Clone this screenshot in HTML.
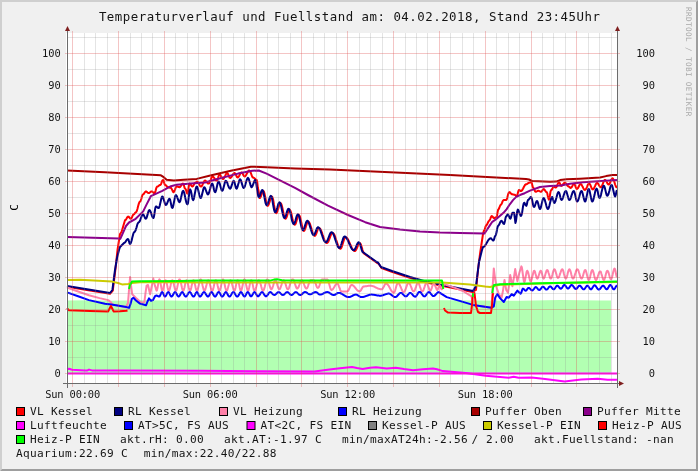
<!DOCTYPE html>
<html><head><meta charset="utf-8"><title>Temperaturverlauf</title>
<style>
html,body{margin:0;padding:0;background:#f0f0f0;}
svg{display:block;will-change:transform;}
text{font-family:'DejaVu Sans Mono','Liberation Mono',monospace;}
</style></head><body>
<svg width="698" height="471" viewBox="0 0 698 471">
<rect x="0" y="0" width="698" height="471" fill="#f0f0f0"/>
<path d="M0,0 H698 L696,2 H2 V469 L0,471 Z" fill="#cfcfcf"/>
<path d="M698,471 H0 L2,469 H696 V2 L698,0 Z" fill="#9e9e9e"/>
<rect x="66" y="33" width="552" height="351" fill="#fff"/>
<path d="M67,373.3 L67.0,300.6 L90.0,300.3 L110.0,300.8 L140.0,300.2 L170.0,300.5 L200.0,300.9 L240.0,300.3 L280.0,301.0 L320.0,300.3 L360.0,300.6 L400.0,300.9 L440.0,300.2 L480.0,300.4 L520.0,300.8 L560.0,300.1 L600.0,300.4 L611.0,300.4 L611,373.3 Z" fill="#b2ffb2"/>
<path d="M67.0,286.7 L110.0,293.8 L112.8,290.6 L115.6,268.0 L117.5,250.0 L120.0,234.0 L121.5,232.0 L125.0,220.2 L125.5,220.0 L126.1,219.3 L126.6,218.4 L127.1,217.5 L127.7,216.8 L128.2,216.6 L128.7,216.8 L129.2,217.3 L129.8,218.0 L130.3,218.5 L130.8,218.7 L131.4,218.3 L132.0,217.2 L132.5,215.9 L133.1,214.8 L133.7,214.4 L134.2,214.1 L134.8,213.4 L135.3,212.6 L135.8,212.3 L136.3,211.9 L136.9,210.7 L137.4,209.0 L137.9,206.9 L138.5,204.8 L139.0,203.1 L139.6,201.9 L140.1,201.5 L140.7,200.8 L141.3,199.0 L141.8,196.9 L142.4,195.1 L143.0,194.4 L143.6,194.1 L144.1,193.4 L144.7,192.5 L145.2,191.8 L145.8,191.5 L146.4,191.6 L147.0,192.0 L147.5,192.5 L148.1,192.9 L148.7,193.0 L149.3,192.9 L149.9,192.5 L150.4,192.0 L151.0,191.6 L151.6,191.5 L152.2,191.6 L152.7,192.0 L153.3,192.5 L153.8,192.9 L154.4,193.0 L155.0,192.4 L155.6,190.8 L156.1,188.7 L156.7,187.1 L157.3,186.5 L157.9,186.4 L158.5,186.0 L159.0,185.5 L159.6,185.1 L160.2,185.0 L160.8,184.5 L161.3,183.3 L161.9,181.7 L162.4,180.5 L163.0,180.0 L163.6,180.7 L164.1,182.5 L164.6,184.3 L165.2,185.0 L165.8,185.2 L166.3,185.8 L166.9,186.4 L167.4,187.0 L168.0,187.2 L168.6,187.3 L169.2,187.4 L169.7,187.7 L170.3,187.8 L170.9,187.9 L171.4,188.3 L171.9,189.4 L172.5,190.7 L173.0,191.8 L173.5,192.2 L174.0,191.8 L174.5,190.8 L175.1,189.3 L175.6,187.9 L176.1,186.9 L176.6,186.5 L177.2,186.6 L177.8,186.7 L178.3,187.0 L178.9,187.1 L179.5,187.2 L180.0,187.0 L180.5,186.5 L181.0,185.8 L181.5,185.0 L182.0,184.3 L182.5,183.8 L183.0,183.6 L183.6,184.3 L184.1,186.1 L184.6,187.9 L185.2,188.6 L185.8,189.3 L186.3,191.1 L186.8,192.9 L187.4,193.6 L187.9,192.1 L188.4,188.6 L189.0,185.1 L189.5,183.6 L190.1,183.9 L190.7,184.6 L191.2,185.5 L191.8,186.2 L192.4,186.5 L193.0,186.2 L193.6,185.3 L194.1,184.1 L194.7,183.2 L195.3,182.9 L195.9,182.6 L196.4,181.9 L197.0,181.6 L197.5,181.8 L198.0,182.3 L198.5,183.1 L199.0,184.1 L199.5,185.1 L200.0,185.9 L200.5,186.4 L201.0,186.6 L201.5,186.4 L202.0,185.7 L202.5,184.7 L203.0,183.6 L203.5,182.5 L204.0,181.5 L204.5,180.8 L205.0,180.6 L205.5,180.7 L206.0,181.2 L206.5,181.8 L207.0,182.4 L207.5,183.0 L208.0,183.5 L208.5,183.6 L209.0,183.3 L209.5,182.6 L210.0,181.4 L210.6,180.1 L211.1,178.7 L211.6,177.5 L212.1,176.8 L212.6,176.5 L213.2,176.7 L213.7,177.3 L214.3,178.1 L214.8,178.9 L215.4,179.7 L215.9,180.3 L216.5,180.5 L217.0,180.1 L217.5,179.0 L218.1,177.5 L218.6,176.0 L219.1,174.9 L219.6,174.5 L220.2,174.8 L220.7,175.6 L221.3,176.8 L221.9,177.9 L222.4,178.7 L223.0,179.0 L223.5,178.8 L224.0,178.1 L224.5,177.1 L225.1,176.0 L225.6,174.9 L226.1,173.9 L226.6,173.2 L227.1,173.0 L227.6,173.3 L228.1,174.2 L228.6,175.5 L229.1,176.8 L229.6,177.7 L230.1,178.0 L230.6,177.8 L231.1,177.4 L231.6,176.8 L232.1,175.9 L232.6,175.1 L233.1,174.2 L233.6,173.6 L234.1,173.2 L234.6,173.0 L235.1,173.3 L235.6,174.1 L236.1,175.2 L236.6,176.4 L237.1,177.2 L237.6,177.5 L238.1,177.3 L238.6,176.8 L239.1,176.0 L239.6,175.0 L240.1,174.0 L240.6,173.2 L241.1,172.7 L241.6,172.5 L242.1,172.8 L242.6,173.5 L243.1,174.5 L243.6,175.5 L244.1,176.2 L244.6,176.5 L245.1,176.3 L245.6,175.8 L246.1,175.0 L246.6,174.0 L247.2,173.0 L247.7,172.0 L248.2,171.2 L248.7,170.7 L249.2,170.5 L249.7,170.8 L250.2,171.5 L250.7,172.7 L251.2,174.0 L251.7,175.4 L252.2,176.6 L252.7,177.3 L253.2,177.6 L253.7,177.7 L254.2,178.1 L254.7,178.5 L255.2,179.1 L255.7,179.5 L256.2,179.9 L256.7,180.0 L257.3,182.5 L257.8,187.5 L258.4,190.0 L259.1,194.0 L259.8,198.0 L260.3,197.6 L260.8,196.6 L261.3,195.2 L261.8,193.6 L262.3,192.2 L262.8,191.2 L263.3,190.8 L263.8,191.4 L264.4,193.0 L264.9,195.5 L265.5,198.3 L266.0,201.2 L266.5,203.7 L267.1,205.3 L267.6,205.9 L268.1,205.5 L268.7,204.5 L269.2,203.0 L269.8,201.3 L270.3,199.5 L270.8,198.0 L271.4,197.0 L271.9,196.6 L272.4,197.2 L273.0,199.0 L273.5,201.7 L274.0,204.9 L274.6,208.0 L275.1,210.7 L275.7,212.5 L276.2,213.1 L276.7,212.7 L277.3,211.6 L277.8,210.0 L278.4,208.1 L278.9,206.2 L279.4,204.6 L280.0,203.5 L280.5,203.1 L281.0,203.5 L281.5,204.6 L282.0,206.3 L282.5,208.5 L283.0,211.0 L283.5,213.4 L284.0,215.6 L284.5,217.3 L285.0,218.4 L285.5,218.8 L286.0,218.4 L286.5,217.4 L287.0,215.9 L287.5,214.2 L288.0,212.4 L288.5,210.9 L289.0,209.9 L289.5,209.5 L290.0,209.9 L290.5,211.0 L291.1,212.7 L291.6,214.8 L292.1,217.2 L292.6,219.5 L293.1,221.6 L293.7,223.3 L294.2,224.4 L294.7,224.8 L295.2,224.4 L295.8,223.4 L296.3,221.8 L296.8,220.0 L297.3,218.1 L297.8,216.5 L298.4,215.5 L298.9,215.1 L299.4,215.5 L299.9,216.6 L300.4,218.4 L300.9,220.6 L301.4,223.0 L301.9,225.4 L302.4,227.6 L302.9,229.4 L303.4,230.5 L303.9,230.9 L304.4,230.5 L305.0,229.5 L305.5,228.0 L306.0,226.3 L306.6,224.5 L307.1,223.0 L307.7,222.0 L308.2,221.6 L308.7,221.8 L309.2,222.4 L309.7,223.4 L310.2,224.7 L310.7,226.2 L311.2,227.9 L311.7,229.6 L312.2,231.3 L312.7,232.8 L313.2,234.1 L313.7,235.1 L314.2,235.7 L314.7,235.9 L315.2,235.6 L315.8,234.7 L316.3,233.5 L316.9,232.0 L317.4,230.4 L317.9,229.2 L318.5,228.3 L319.0,228.0 L319.5,228.2 L320.0,228.7 L320.6,229.4 L321.1,230.5 L321.6,231.8 L322.1,233.2 L322.6,234.8 L323.2,236.3 L323.7,237.9 L324.2,239.3 L324.7,240.6 L325.2,241.7 L325.8,242.4 L326.3,242.9 L326.8,243.1 L327.3,242.9 L327.9,242.3 L328.4,241.4 L328.9,240.1 L329.4,238.8 L330.0,237.3 L330.5,236.0 L331.0,234.7 L331.5,233.8 L332.1,233.2 L332.6,233.0 L333.1,233.2 L333.6,233.7 L334.2,234.5 L334.7,235.6 L335.2,236.9 L335.7,238.5 L336.2,240.1 L336.8,241.7 L337.3,243.3 L337.8,244.8 L338.3,246.2 L338.8,247.3 L339.4,248.1 L339.9,248.6 L340.4,248.8 L340.9,248.5 L341.4,247.7 L341.9,246.4 L342.4,244.8 L342.9,243.1 L343.5,241.3 L344.0,239.7 L344.5,238.4 L345.0,237.6 L345.5,237.3 L346.0,237.4 L346.5,237.7 L347.1,238.2 L347.6,238.9 L348.1,239.7 L348.6,240.7 L349.1,241.8 L349.6,243.0 L350.1,244.2 L350.7,245.3 L351.2,246.5 L351.7,247.6 L352.2,248.6 L352.7,249.4 L353.2,250.1 L353.8,250.6 L354.3,250.9 L354.8,251.0 L355.3,250.8 L355.8,250.2 L356.3,249.4 L356.8,248.3 L357.3,247.1 L357.8,245.8 L358.3,244.7 L358.8,243.9 L359.3,243.3 L359.8,243.1 L360.3,243.5 L360.9,244.6 L361.4,246.2 L362.0,248.1 L362.5,250.0 L363.0,251.6 L363.6,252.7 L364.1,253.1 L363.6,253.3 L377.2,263.0 L378.5,263.5 L381.5,268.0 L392.5,272.0 L410.5,278.0 L424.5,282.0 L440.5,285.5 L460.5,289.4 L472.5,292.0 L476.0,290.0 L478.0,270.0 L480.0,254.0 L483.0,234.0 L483.4,232.5 L483.8,230.9 L484.3,230.3 L484.9,228.9 L485.4,227.0 L486.0,225.6 L486.5,225.0 L487.0,224.6 L487.5,223.5 L488.1,222.3 L488.6,221.2 L489.1,220.8 L489.6,220.3 L490.2,219.1 L490.7,217.7 L491.3,216.5 L491.8,216.0 L492.3,216.3 L492.9,217.0 L493.4,217.8 L493.9,218.1 L494.4,218.0 L495.0,217.8 L495.5,217.4 L496.1,217.2 L496.6,217.1 L497.1,215.2 L497.7,211.5 L498.2,209.6 L498.7,209.2 L499.2,208.0 L499.8,206.5 L500.3,205.3 L500.8,204.9 L501.3,204.4 L501.9,203.2 L502.4,201.8 L503.0,200.6 L503.5,200.1 L504.0,200.1 L504.5,200.1 L505.1,200.1 L505.6,200.1 L506.1,200.1 L506.6,199.6 L507.2,198.1 L507.7,196.1 L508.2,194.1 L508.8,192.6 L509.3,192.1 L509.8,192.3 L510.4,192.8 L510.9,193.5 L511.5,194.0 L512.0,194.2 L512.5,194.3 L513.0,194.4 L513.6,194.6 L514.1,194.7 L514.6,194.8 L515.1,195.0 L515.7,195.6 L516.2,196.2 L516.7,196.4 L517.2,195.5 L517.8,193.2 L518.4,190.9 L518.9,190.0 L519.4,190.1 L520.0,190.5 L520.5,190.9 L521.0,191.0 L521.5,190.8 L522.0,190.4 L522.5,189.6 L523.0,188.7 L523.5,187.7 L524.1,186.6 L524.6,185.7 L525.1,184.9 L525.6,184.5 L526.1,184.3 L526.6,184.2 L527.2,183.9 L527.7,183.5 L528.2,183.1 L528.8,182.8 L529.3,182.7 L529.8,182.6 L530.3,182.4 L530.9,182.3 L531.4,182.2 L531.9,183.5 L532.5,186.2 L533.0,187.5 L533.5,187.9 L534.1,189.0 L534.6,190.3 L535.2,191.4 L535.7,191.8 L536.2,191.7 L536.7,191.4 L537.3,191.1 L537.8,190.8 L538.3,190.7 L538.8,190.8 L539.4,191.1 L539.9,191.4 L540.5,191.7 L541.0,191.8 L541.5,191.5 L542.0,190.9 L542.6,190.0 L543.1,189.4 L543.6,189.1 L544.1,189.3 L544.7,189.9 L545.2,190.7 L545.7,191.5 L546.3,192.1 L546.8,192.3 L547.3,193.4 L547.8,196.0 L548.4,198.6 L548.9,199.7 L549.5,198.3 L550.0,194.9 L550.5,191.6 L551.1,190.2 L551.6,189.9 L552.1,189.1 L552.7,188.1 L553.2,187.3 L553.7,187.0 L554.2,187.1 L554.8,187.2 L555.3,187.4 L555.8,187.5 L556.3,187.1 L556.9,186.2 L557.4,184.8 L557.9,183.5 L558.5,182.6 L559.0,182.2 L559.5,182.7 L560.1,184.0 L560.7,185.4 L561.2,185.9 L561.7,185.7 L562.3,185.3 L562.8,184.7 L563.3,183.9 L563.8,183.3 L564.4,182.9 L564.9,182.7 L565.4,182.9 L566.0,183.4 L566.5,184.2 L567.0,185.0 L567.5,185.8 L568.1,186.3 L568.6,186.5 L569.1,186.7 L569.7,187.2 L570.2,187.8 L570.7,188.0 L571.2,187.7 L571.8,187.0 L572.4,185.9 L572.9,184.9 L573.5,184.1 L574.0,183.8 L574.6,184.3 L575.2,185.6 L575.7,187.1 L576.3,188.4 L576.9,188.9 L577.4,188.7 L578.0,188.0 L578.5,187.0 L579.0,186.0 L579.5,185.0 L580.1,184.3 L580.6,184.1 L581.1,184.3 L581.7,184.9 L582.2,185.9 L582.8,187.0 L583.3,188.1 L583.8,189.1 L584.4,189.7 L584.9,189.9 L585.4,189.7 L586.0,189.0 L586.5,188.0 L587.0,186.8 L587.5,185.5 L588.0,184.5 L588.6,183.8 L589.1,183.6 L589.6,183.9 L590.2,184.7 L590.7,185.9 L591.2,187.1 L591.7,188.3 L592.3,189.1 L592.8,189.4 L593.3,189.2 L593.9,188.5 L594.4,187.4 L595.0,186.2 L595.5,185.0 L596.0,183.9 L596.6,183.2 L597.1,183.0 L597.6,183.2 L598.2,183.8 L598.7,184.7 L599.2,185.6 L599.7,186.5 L600.3,187.1 L600.8,187.3 L601.3,187.0 L601.8,186.2 L602.4,185.0 L602.9,183.6 L603.4,182.2 L604.0,181.0 L604.5,180.2 L605.0,179.9 L605.5,180.1 L606.1,180.8 L606.6,181.7 L607.1,182.8 L607.6,183.7 L608.2,184.4 L608.7,184.6 L609.2,184.3 L609.8,183.4 L610.3,182.2 L610.9,180.7 L611.4,179.5 L612.0,178.6 L612.5,178.3 L613.0,178.6 L613.5,179.6 L614.1,181.1 L614.6,182.8 L615.1,184.5 L615.7,186.0 L616.2,187.0 L616.7,187.3 L616.9,187.3 L617.0,187.3" fill="none" stroke="#ff0000" stroke-width="2" stroke-linejoin="round" />
<path d="M67.0,286.0 L110.0,293.0 L112.4,290.0 L115.0,270.0 L117.0,258.0 L119.0,250.0 L120.0,247.0 L124.0,243.0 L124.5,242.8 L125.0,242.4 L125.5,241.8 L126.0,241.0 L126.5,240.2 L127.0,239.6 L127.5,239.2 L128.0,239.0 L128.5,239.7 L129.0,241.5 L129.5,243.3 L130.0,244.0 L130.6,243.5 L131.1,242.2 L131.7,240.3 L132.2,238.0 L132.8,235.7 L133.3,233.8 L133.8,232.5 L134.4,232.0 L134.9,231.6 L135.5,230.6 L136.0,229.0 L136.6,227.2 L137.1,225.3 L137.6,223.7 L138.2,222.7 L138.7,222.3 L139.2,222.0 L139.8,221.1 L140.3,219.9 L140.8,218.4 L141.4,216.8 L141.9,215.6 L142.5,214.7 L143.0,214.4 L143.6,214.8 L144.1,215.9 L144.7,217.2 L145.2,218.3 L145.8,218.7 L146.3,218.3 L146.8,217.1 L147.3,215.4 L147.9,213.4 L148.4,211.7 L148.9,210.5 L149.4,210.1 L149.9,210.4 L150.4,211.3 L150.9,212.5 L151.4,214.0 L151.9,215.6 L152.4,216.8 L152.9,217.7 L153.4,218.0 L153.9,216.9 L154.4,214.0 L154.9,210.5 L155.4,207.6 L155.9,206.5 L156.5,206.6 L157.0,207.0 L157.6,207.5 L158.1,207.9 L158.7,208.0 L159.2,207.4 L159.7,205.8 L160.2,203.5 L160.8,201.0 L161.3,198.7 L161.8,197.1 L162.3,196.5 L162.8,196.9 L163.3,198.1 L163.8,199.8 L164.4,201.7 L164.9,203.4 L165.4,204.6 L165.9,205.0 L166.4,204.7 L166.9,203.8 L167.4,202.6 L168.0,201.1 L168.5,199.9 L169.0,199.0 L169.5,198.7 L170.1,199.6 L170.6,201.9 L171.2,204.8 L171.7,207.1 L172.3,208.0 L172.8,207.4 L173.3,205.6 L173.8,203.0 L174.4,200.1 L174.9,197.5 L175.4,195.7 L175.9,195.1 L176.4,195.5 L176.9,196.4 L177.4,197.9 L178.0,199.4 L178.5,200.9 L179.0,201.8 L179.5,202.2 L180.0,201.6 L180.5,200.1 L181.0,197.8 L181.6,195.2 L182.1,192.9 L182.6,191.4 L183.1,190.8 L183.6,191.3 L184.2,192.8 L184.7,195.0 L185.2,197.6 L185.8,200.2 L186.3,202.4 L186.9,203.9 L187.4,204.4 L188.0,203.0 L188.5,199.2 L189.1,194.6 L189.6,190.8 L190.2,189.4 L190.8,190.4 L191.4,193.1 L191.9,196.4 L192.5,199.1 L193.1,200.1 L193.6,199.4 L194.1,197.5 L194.6,194.8 L195.2,191.8 L195.7,189.1 L196.2,187.2 L196.7,186.5 L197.2,186.9 L197.7,188.2 L198.2,190.0 L198.7,192.2 L199.2,194.5 L199.7,196.3 L200.2,197.6 L200.7,198.0 L201.2,197.5 L201.7,196.0 L202.2,193.8 L202.8,191.4 L203.3,189.2 L203.8,187.7 L204.3,187.2 L204.8,187.6 L205.3,188.6 L205.8,190.0 L206.4,191.6 L206.9,193.0 L207.4,194.0 L207.9,194.4 L208.4,194.0 L209.0,192.8 L209.5,191.1 L210.1,189.0 L210.6,186.9 L211.1,185.2 L211.7,184.0 L212.2,183.6 L212.8,184.4 L213.4,186.6 L213.9,189.2 L214.5,191.4 L215.1,192.2 L215.6,191.7 L216.1,190.2 L216.6,188.0 L217.1,185.7 L217.6,183.5 L218.1,182.0 L218.6,181.5 L219.1,182.0 L219.6,183.3 L220.1,185.1 L220.7,187.2 L221.2,189.0 L221.7,190.3 L222.2,190.8 L222.7,190.3 L223.2,188.9 L223.7,186.9 L224.3,184.7 L224.8,182.7 L225.3,181.3 L225.8,180.8 L226.3,181.1 L226.9,182.0 L227.4,183.2 L227.9,184.8 L228.5,186.3 L229.0,187.5 L229.6,188.4 L230.1,188.7 L230.6,188.3 L231.1,187.2 L231.6,185.6 L232.2,183.9 L232.7,182.3 L233.2,181.2 L233.7,180.8 L234.3,181.6 L234.8,183.5 L235.4,186.0 L235.9,187.9 L236.5,188.7 L237.0,188.2 L237.5,186.9 L238.0,185.0 L238.6,183.0 L239.1,181.1 L239.6,179.8 L240.1,179.3 L240.6,179.7 L241.1,180.9 L241.6,182.6 L242.2,184.6 L242.7,186.3 L243.2,187.5 L243.7,187.9 L244.2,187.5 L244.8,186.4 L245.3,184.8 L245.8,182.9 L246.4,181.0 L246.9,179.4 L247.5,178.3 L248.0,177.9 L248.5,178.4 L249.0,179.7 L249.5,181.5 L250.1,183.6 L250.6,185.4 L251.1,186.7 L251.6,187.2 L252.1,186.8 L252.6,185.8 L253.1,184.4 L253.7,182.8 L254.2,181.4 L254.7,180.4 L255.2,180.0 L255.7,180.9 L256.2,183.2 L256.7,186.7 L257.3,190.5 L257.8,194.0 L258.3,196.3 L258.8,197.2 L259.3,196.8 L259.8,195.8 L260.3,194.4 L260.8,192.8 L261.3,191.4 L261.8,190.4 L262.3,190.0 L262.8,190.6 L263.4,192.2 L263.9,194.7 L264.5,197.5 L265.0,200.4 L265.5,202.9 L266.1,204.5 L266.6,205.1 L267.1,204.7 L267.7,203.7 L268.2,202.2 L268.8,200.5 L269.3,198.7 L269.8,197.2 L270.4,196.2 L270.9,195.8 L271.4,196.4 L272.0,198.2 L272.5,200.9 L273.0,204.1 L273.6,207.2 L274.1,209.9 L274.7,211.7 L275.2,212.3 L275.7,211.9 L276.3,210.8 L276.8,209.2 L277.4,207.3 L277.9,205.4 L278.4,203.8 L279.0,202.7 L279.5,202.3 L280.0,202.7 L280.5,203.8 L281.0,205.5 L281.5,207.7 L282.0,210.2 L282.5,212.6 L283.0,214.8 L283.5,216.5 L284.0,217.6 L284.5,218.0 L285.0,217.6 L285.5,216.6 L286.0,215.1 L286.5,213.3 L287.0,211.6 L287.5,210.1 L288.0,209.1 L288.5,208.7 L289.0,209.1 L289.5,210.2 L290.1,211.9 L290.6,214.0 L291.1,216.3 L291.6,218.7 L292.1,220.8 L292.7,222.5 L293.2,223.6 L293.7,224.0 L294.2,223.6 L294.8,222.6 L295.3,221.0 L295.8,219.2 L296.3,217.3 L296.8,215.7 L297.4,214.7 L297.9,214.3 L298.4,214.7 L298.9,215.8 L299.4,217.6 L299.9,219.8 L300.4,222.2 L300.9,224.6 L301.4,226.8 L301.9,228.6 L302.4,229.7 L302.9,230.1 L303.4,229.7 L304.0,228.7 L304.5,227.2 L305.0,225.5 L305.6,223.7 L306.1,222.2 L306.7,221.2 L307.2,220.8 L307.7,221.0 L308.2,221.6 L308.7,222.6 L309.2,223.9 L309.7,225.4 L310.2,227.1 L310.7,228.8 L311.2,230.5 L311.7,232.0 L312.2,233.3 L312.7,234.3 L313.2,234.9 L313.7,235.1 L314.2,234.8 L314.8,233.9 L315.3,232.7 L315.9,231.2 L316.4,229.6 L316.9,228.4 L317.5,227.5 L318.0,227.2 L318.5,227.4 L319.0,227.9 L319.6,228.6 L320.1,229.7 L320.6,231.0 L321.1,232.4 L321.6,234.0 L322.2,235.5 L322.7,237.1 L323.2,238.5 L323.7,239.8 L324.2,240.9 L324.8,241.6 L325.3,242.1 L325.8,242.3 L326.3,242.1 L326.9,241.5 L327.4,240.6 L327.9,239.3 L328.4,238.0 L329.0,236.5 L329.5,235.2 L330.0,233.9 L330.5,233.0 L331.1,232.4 L331.6,232.2 L332.1,232.4 L332.6,232.9 L333.2,233.7 L333.7,234.8 L334.2,236.1 L334.7,237.7 L335.2,239.3 L335.8,240.9 L336.3,242.5 L336.8,244.0 L337.3,245.4 L337.8,246.5 L338.4,247.3 L338.9,247.8 L339.4,248.0 L339.9,247.7 L340.4,246.9 L340.9,245.6 L341.4,244.0 L341.9,242.2 L342.5,240.5 L343.0,238.9 L343.5,237.6 L344.0,236.8 L344.5,236.5 L345.0,236.6 L345.5,236.9 L346.1,237.4 L346.6,238.1 L347.1,238.9 L347.6,239.9 L348.1,241.0 L348.6,242.2 L349.1,243.3 L349.7,244.5 L350.2,245.7 L350.7,246.8 L351.2,247.8 L351.7,248.6 L352.2,249.3 L352.8,249.8 L353.3,250.1 L353.8,250.2 L354.3,250.0 L354.8,249.4 L355.3,248.6 L355.8,247.5 L356.3,246.2 L356.8,245.0 L357.3,243.9 L357.8,243.1 L358.3,242.5 L358.8,242.3 L359.3,242.7 L359.9,243.8 L360.4,245.4 L361.0,247.3 L361.5,249.2 L362.0,250.8 L362.6,251.9 L363.1,252.3 L376.7,262.0 L378.0,262.5 L381.0,267.0 L392.0,271.0 L410.0,277.0 L424.0,281.0 L440.0,284.5 L460.0,288.4 L473.0,291.0 L476.0,286.0 L479.0,262.0 L482.0,250.0 L483.0,247.0 L483.5,246.9 L484.0,246.6 L484.5,246.2 L485.1,245.6 L485.6,244.8 L486.1,244.0 L486.6,243.1 L487.1,242.2 L487.6,241.3 L488.1,240.5 L488.6,239.7 L489.2,239.1 L489.7,238.7 L490.2,238.4 L490.7,238.3 L491.2,238.5 L491.7,239.1 L492.3,239.7 L492.8,240.3 L493.3,240.5 L493.9,239.8 L494.4,238.1 L494.9,236.3 L495.5,235.6 L496.0,234.6 L496.6,232.1 L497.1,229.1 L497.7,226.6 L498.2,225.6 L498.7,225.3 L499.3,224.4 L499.8,223.2 L500.3,222.0 L500.9,221.1 L501.4,220.8 L501.9,221.1 L502.4,221.9 L503.0,222.9 L503.5,223.7 L504.0,224.0 L504.5,222.9 L505.1,220.2 L505.6,217.6 L506.1,216.5 L506.6,216.0 L507.2,214.9 L507.7,214.4 L508.2,214.8 L508.8,215.9 L509.3,217.2 L509.9,218.3 L510.4,218.7 L510.9,217.8 L511.4,215.8 L512.0,213.7 L512.5,212.8 L513.0,212.8 L513.6,212.8 L514.1,212.8 L514.8,217.8 L515.4,222.9 L516.0,221.0 L516.6,216.2 L517.2,211.5 L517.8,209.6 L518.3,210.0 L518.9,211.2 L519.4,212.8 L519.9,214.4 L520.5,215.6 L521.0,216.0 L521.5,215.1 L522.1,212.7 L522.6,209.3 L523.1,206.0 L523.7,203.6 L524.2,202.7 L524.7,203.2 L525.2,204.3 L525.8,205.4 L526.3,205.9 L526.9,204.4 L527.4,201.5 L528.0,200.0 L528.5,199.8 L529.0,199.2 L529.5,198.5 L530.0,197.8 L530.5,197.2 L531.0,197.0 L531.5,197.7 L532.0,199.5 L532.5,202.0 L533.0,204.5 L533.5,206.3 L534.0,207.0 L534.5,206.6 L535.0,205.5 L535.5,204.0 L536.0,202.5 L536.5,201.4 L537.0,201.0 L537.5,201.5 L538.0,203.0 L538.5,205.0 L539.0,207.0 L539.5,208.5 L540.0,209.0 L540.5,208.5 L541.0,206.9 L541.5,204.7 L542.1,202.3 L542.6,200.1 L543.1,198.5 L543.6,198.0 L544.1,198.4 L544.7,199.6 L545.2,201.4 L545.8,203.5 L546.3,205.6 L546.8,207.4 L547.4,208.6 L547.9,209.0 L548.4,208.5 L549.0,207.2 L549.5,205.3 L550.0,203.0 L550.6,200.7 L551.1,198.8 L551.7,197.5 L552.2,197.0 L552.7,197.9 L553.2,200.0 L553.8,202.1 L554.3,203.0 L554.8,202.6 L555.4,201.4 L555.9,199.6 L556.5,197.5 L557.0,195.4 L557.5,193.6 L558.1,192.4 L558.6,192.0 L559.2,192.8 L559.8,194.8 L560.3,197.2 L560.9,199.2 L561.5,200.0 L562.0,199.7 L562.6,198.7 L563.1,197.2 L563.6,195.5 L564.2,193.8 L564.7,192.3 L565.3,191.3 L565.8,191.0 L566.3,191.4 L566.8,192.7 L567.3,194.5 L567.9,196.5 L568.4,198.3 L568.9,199.6 L569.4,200.0 L569.9,199.7 L570.5,198.7 L571.0,197.2 L571.5,195.5 L572.1,193.8 L572.6,192.3 L573.2,191.3 L573.7,191.0 L574.2,191.5 L574.7,193.0 L575.2,195.1 L575.7,197.4 L576.2,199.5 L576.7,201.0 L577.2,201.5 L577.7,201.1 L578.3,200.0 L578.8,198.3 L579.4,196.2 L579.9,194.2 L580.4,192.5 L581.0,191.4 L581.5,191.0 L582.0,191.5 L582.5,193.0 L583.0,195.1 L583.6,197.4 L584.1,199.5 L584.6,201.0 L585.1,201.5 L585.6,200.9 L586.1,199.1 L586.6,196.6 L587.2,193.9 L587.7,191.4 L588.2,189.6 L588.7,189.0 L589.2,189.6 L589.7,191.4 L590.2,193.9 L590.8,196.6 L591.3,199.1 L591.8,200.9 L592.3,201.5 L592.8,201.0 L593.4,199.6 L593.9,197.5 L594.5,195.1 L595.0,192.6 L595.5,190.5 L596.1,189.1 L596.6,188.6 L597.2,189.5 L597.8,191.8 L598.3,194.8 L598.9,197.1 L599.5,198.0 L600.0,197.5 L600.6,196.2 L601.1,194.2 L601.6,191.9 L602.2,189.6 L602.7,187.6 L603.3,186.3 L603.8,185.8 L604.3,186.3 L604.8,187.7 L605.3,189.7 L605.8,191.9 L606.3,193.9 L606.8,195.3 L607.3,195.8 L607.8,195.4 L608.4,194.2 L608.9,192.5 L609.5,190.4 L610.0,188.3 L610.5,186.6 L611.1,185.4 L611.6,185.0 L612.1,185.6 L612.6,187.2 L613.1,189.5 L613.7,192.0 L614.2,194.3 L614.7,195.9 L615.2,196.5 L615.8,194.9 L616.4,191.6 L617.0,190.0" fill="none" stroke="#000080" stroke-width="2" stroke-linejoin="round" />
<path d="M67.0,287.5 L78.1,291.5 L88.9,295.2 L99.6,298.1 L108.2,300.1 L110.9,302.2 L112.5,304.6 L126.0,307.2 L128.0,303.0 L129.0,290.0 L130.1,277.0 L131.2,287.0 L132.2,294.3 L136.0,298.0 L141.5,303.0 L144.4,302.0 L145.5,293.0 L146.6,285.7 L148.0,285.0 L150.1,294.3 L151.8,286.0 L153.3,278.6 L155.0,286.0 L155.5,287.2 L156.1,289.5 L156.6,290.7 L157.0,290.1 L157.4,288.6 L157.8,286.3 L158.2,283.8 L158.6,281.5 L159.0,280.0 L159.4,279.4 L159.9,280.0 L160.3,281.5 L160.7,283.8 L161.1,286.3 L161.5,288.6 L161.9,290.1 L162.3,290.7 L162.7,290.3 L163.1,289.2 L163.5,287.5 L163.9,285.4 L164.3,283.4 L164.7,281.7 L165.1,280.6 L165.6,280.2 L166.0,280.6 L166.4,281.7 L166.8,283.4 L167.2,285.4 L167.6,287.5 L168.0,289.2 L168.4,290.3 L168.8,290.7 L169.2,290.3 L169.7,289.2 L170.1,287.5 L170.6,285.4 L171.0,283.4 L171.5,281.7 L171.9,280.6 L172.4,280.2 L172.8,280.6 L173.2,281.7 L173.7,283.4 L174.1,285.4 L174.6,287.5 L175.0,289.2 L175.5,290.3 L175.9,290.7 L176.3,290.4 L176.7,289.4 L177.1,287.9 L177.5,286.0 L177.9,284.1 L178.3,282.2 L178.7,280.7 L179.1,279.7 L179.6,279.4 L180.0,279.7 L180.4,280.7 L180.8,282.2 L181.2,284.1 L181.6,286.0 L182.0,287.9 L182.4,289.4 L182.8,290.4 L183.2,290.7 L183.6,290.3 L184.0,289.2 L184.5,287.5 L184.9,285.4 L185.3,283.4 L185.8,281.7 L186.2,280.6 L186.6,280.2 L187.0,280.6 L187.4,281.7 L187.9,283.4 L188.3,285.4 L188.7,287.5 L189.2,289.2 L189.6,290.3 L190.0,290.7 L190.4,290.3 L190.9,289.2 L191.3,287.5 L191.7,285.4 L192.2,283.4 L192.6,281.7 L193.0,280.6 L193.4,280.2 L193.9,280.6 L194.3,281.7 L194.7,283.4 L195.2,285.4 L195.6,287.5 L196.0,289.2 L196.5,290.3 L196.9,290.7 L197.3,290.4 L197.7,289.4 L198.2,287.9 L198.6,286.0 L199.0,284.1 L199.4,282.2 L199.8,280.7 L200.2,279.7 L200.7,279.4 L201.1,279.7 L201.5,280.7 L201.9,282.2 L202.3,284.1 L202.7,286.0 L203.2,287.9 L203.6,289.4 L204.0,290.4 L204.4,290.7 L204.8,290.4 L205.3,289.5 L205.7,288.1 L206.1,286.4 L206.6,284.5 L207.0,282.8 L207.4,281.4 L207.9,280.5 L208.3,280.2 L208.7,280.5 L209.2,281.4 L209.6,282.8 L210.0,284.5 L210.5,286.4 L210.9,288.1 L211.3,289.5 L211.8,290.4 L212.2,290.7 L212.6,290.4 L213.0,289.5 L213.4,288.1 L213.8,286.4 L214.2,284.5 L214.6,282.8 L215.0,281.4 L215.4,280.5 L215.8,280.2 L216.2,280.6 L216.7,281.7 L217.2,283.4 L217.6,285.4 L218.1,287.5 L218.5,289.2 L219.0,290.3 L219.4,290.7 L219.8,290.3 L220.3,289.0 L220.8,287.2 L221.2,285.1 L221.7,282.9 L222.1,281.1 L222.6,279.8 L223.0,279.4 L223.4,279.8 L223.9,281.1 L224.3,282.9 L224.8,285.0 L225.2,287.2 L225.7,289.0 L226.2,290.3 L226.6,290.7 L227.0,290.4 L227.5,289.5 L227.9,288.1 L228.3,286.4 L228.8,284.5 L229.2,282.8 L229.6,281.4 L230.1,280.5 L230.5,280.2 L230.9,280.5 L231.4,281.4 L231.8,282.8 L232.2,284.5 L232.7,286.4 L233.1,288.1 L233.5,289.5 L234.0,290.4 L234.4,290.7 L234.8,290.3 L235.2,289.2 L235.6,287.5 L236.0,285.4 L236.4,283.4 L236.8,281.7 L237.2,280.6 L237.7,280.2 L238.1,280.6 L238.5,281.7 L238.9,283.4 L239.3,285.4 L239.7,287.5 L240.1,289.2 L240.5,290.3 L240.9,290.7 L241.3,290.3 L241.8,289.0 L242.2,287.2 L242.7,285.1 L243.1,282.9 L243.6,281.1 L244.0,279.8 L244.4,279.4 L244.9,279.8 L245.3,281.1 L245.8,282.9 L246.2,285.0 L246.7,287.2 L247.1,289.0 L247.6,290.3 L248.0,290.7 L248.4,290.3 L248.8,289.2 L249.2,287.5 L249.6,285.4 L250.0,283.4 L250.4,281.7 L250.8,280.6 L251.2,280.2 L251.7,280.6 L252.1,281.7 L252.5,283.4 L252.9,285.4 L253.3,287.5 L253.7,289.2 L254.1,290.3 L254.5,290.7 L254.9,290.4 L255.4,289.7 L255.8,288.5 L256.2,287.1 L256.6,285.4 L257.1,283.8 L257.5,282.4 L257.9,281.2 L258.4,280.5 L258.8,280.2 L259.2,280.5 L259.7,281.2 L260.1,282.4 L260.5,283.8 L261.0,285.4 L261.4,287.1 L261.8,288.5 L262.2,289.7 L262.7,290.4 L263.1,290.7 L263.5,290.4 L263.9,289.6 L264.3,288.4 L264.8,286.8 L265.2,285.1 L265.6,283.3 L266.0,281.7 L266.4,280.5 L266.8,279.7 L267.2,279.4 L267.7,279.6 L268.1,280.3 L268.5,281.4 L268.9,282.8 L269.3,284.3 L269.7,285.9 L270.2,287.3 L270.6,288.4 L271.0,289.1 L271.4,289.3 L271.8,289.0 L272.3,288.2 L272.7,287.0 L273.2,285.5 L273.6,284.0 L274.0,282.5 L274.5,281.3 L274.9,280.5 L275.4,280.2 L275.8,280.5 L276.2,281.3 L276.7,282.5 L277.1,284.0 L277.5,285.5 L278.0,287.0 L278.4,288.2 L278.9,289.0 L279.3,289.3 L279.7,289.1 L280.2,288.4 L280.6,287.4 L281.0,286.2 L281.5,284.8 L281.9,283.3 L282.3,282.1 L282.7,281.1 L283.2,280.4 L283.6,280.2 L284.0,280.4 L284.5,281.1 L284.9,282.1 L285.3,283.3 L285.8,284.8 L286.2,286.2 L286.6,287.4 L287.0,288.4 L287.5,289.1 L287.9,289.3 L288.3,289.1 L288.8,288.4 L289.2,287.3 L289.6,285.9 L290.0,284.4 L290.5,282.8 L290.9,281.4 L291.3,280.3 L291.8,279.6 L292.2,279.4 L292.5,279.4 L292.9,279.4 L293.3,279.6 L293.8,280.3 L294.2,281.3 L294.6,282.6 L295.0,284.0 L295.5,285.4 L295.9,286.7 L296.3,287.7 L296.8,288.4 L297.2,288.6 L297.6,288.4 L298.0,287.9 L298.5,287.2 L298.9,286.1 L299.3,285.0 L299.7,283.8 L300.1,282.7 L300.5,281.6 L301.0,280.9 L301.4,280.4 L301.8,280.2 L302.2,280.4 L302.6,280.9 L303.1,281.6 L303.5,282.7 L303.9,283.8 L304.3,285.0 L304.7,286.1 L305.1,287.2 L305.6,287.9 L306.0,288.4 L306.4,288.6 L306.8,288.4 L307.3,287.8 L307.7,286.9 L308.1,285.7 L308.5,284.4 L309.0,283.1 L309.4,281.9 L309.8,281.0 L310.3,280.4 L310.7,280.2 L311.1,280.2 L311.5,280.2 L311.9,280.2 L312.4,280.2 L312.8,280.2 L313.2,280.2 L313.6,280.2 L314.0,280.4 L314.5,280.9 L314.9,281.8 L315.3,282.9 L315.8,284.0 L316.2,285.2 L316.6,286.3 L317.0,287.2 L317.5,287.7 L317.9,287.9 L318.3,287.7 L318.8,287.1 L319.2,286.1 L319.6,285.0 L320.0,283.6 L320.5,282.3 L320.9,281.2 L321.3,280.2 L321.8,279.6 L322.2,279.4 L322.6,279.4 L323.0,279.4 L323.4,279.4 L323.9,279.4 L324.3,279.4 L324.7,279.4 L325.1,279.4 L325.5,279.4 L325.9,279.4 L326.4,279.4 L326.8,279.4 L327.2,279.4 L327.6,279.7 L328.1,280.4 L328.5,281.6 L328.9,283.1 L329.4,284.7 L329.8,286.3 L330.2,287.8 L330.6,289.0 L331.1,289.7 L331.5,290.0 L331.9,289.9 L332.3,289.7 L332.7,289.3 L333.1,288.8 L333.5,288.2 L333.9,287.5 L334.4,286.8 L334.8,286.1 L335.2,285.4 L335.6,284.8 L336.0,284.3 L336.4,283.9 L336.8,283.7 L337.2,283.6 L337.6,283.8 L338.1,284.3 L338.5,285.2 L338.9,286.3 L339.4,287.5 L339.8,288.7 L340.2,289.8 L340.6,290.7 L341.1,291.2 L341.5,291.4 L341.9,291.4 L342.3,291.4 L342.7,291.4 L343.2,291.4 L343.6,291.4 L344.0,291.4 L344.4,291.4 L344.8,291.4 L345.2,291.4 L345.6,291.4 L346.1,291.4 L346.5,291.4 L346.9,291.4 L347.3,291.4 L347.7,291.2 L348.2,290.8 L348.6,290.1 L349.0,289.2 L349.5,288.2 L349.9,287.2 L350.3,286.3 L350.7,285.6 L351.2,285.2 L351.6,285.0 L352.0,285.0 L352.4,285.2 L352.8,285.4 L353.3,285.7 L353.7,286.0 L354.1,286.4 L354.5,286.9 L354.9,287.4 L355.3,287.9 L355.8,288.5 L356.2,289.0 L356.6,289.5 L357.0,290.0 L357.4,290.4 L357.8,290.7 L358.3,291.0 L358.7,291.2 L359.1,291.4 L359.5,291.4 L359.9,291.3 L360.4,290.9 L360.8,290.4 L361.2,289.7 L361.6,288.9 L362.1,288.1 L362.5,287.4 L362.9,286.9 L363.4,286.5 L363.8,286.4 L364.2,286.4 L364.7,286.4 L365.1,286.3 L365.5,286.3 L365.9,286.2 L366.4,286.2 L366.8,286.1 L367.2,286.0 L367.6,285.9 L368.1,285.9 L368.5,285.8 L368.9,285.8 L369.3,285.7 L369.8,285.7 L370.2,285.7 L370.6,285.7 L371.0,285.7 L371.4,285.8 L371.8,285.9 L372.3,286.0 L372.7,286.1 L373.1,286.2 L373.5,286.4 L373.9,286.5 L374.3,286.7 L374.7,286.9 L375.1,287.1 L375.5,287.3 L375.9,287.5 L376.4,287.7 L376.8,287.9 L377.2,288.1 L377.6,288.3 L378.0,288.5 L378.4,288.6 L378.8,288.8 L379.2,288.9 L379.6,289.0 L380.1,289.1 L380.5,289.2 L380.9,289.3 L381.3,289.3 L381.7,289.3 L382.1,289.2 L382.6,288.8 L383.0,288.1 L383.4,287.3 L383.9,286.5 L384.3,285.6 L384.7,284.8 L385.1,284.1 L385.6,283.7 L386.0,283.6 L386.4,283.7 L386.8,283.8 L387.2,284.1 L387.6,284.5 L388.1,285.1 L388.5,285.6 L388.9,286.3 L389.3,287.0 L389.7,287.7 L390.1,288.5 L390.5,289.2 L390.9,289.9 L391.3,290.6 L391.7,291.1 L392.2,291.7 L392.6,292.1 L393.0,292.4 L393.4,292.5 L393.8,292.6 L394.2,292.4 L394.6,291.7 L395.1,290.6 L395.5,289.2 L395.9,287.8 L396.3,286.3 L396.7,284.9 L397.2,283.8 L397.6,283.1 L398.0,282.9 L398.4,283.0 L398.8,283.4 L399.2,283.9 L399.6,284.6 L400.0,285.5 L400.4,286.5 L400.9,287.5 L401.3,288.5 L401.7,289.5 L402.1,290.4 L402.5,291.1 L402.9,291.6 L403.3,292.0 L403.7,292.1 L404.1,291.9 L404.5,291.5 L404.9,290.8 L405.4,289.8 L405.8,288.7 L406.2,287.5 L406.6,286.3 L407.0,285.2 L407.4,284.2 L407.9,283.5 L408.3,283.1 L408.7,282.9 L409.1,283.0 L409.5,283.5 L409.9,284.1 L410.4,285.0 L410.8,286.1 L411.2,287.1 L411.6,288.2 L412.0,289.3 L412.4,290.2 L412.9,290.8 L413.3,291.3 L413.7,291.4 L414.1,291.2 L414.6,290.6 L415.0,289.6 L415.4,288.5 L415.9,287.1 L416.3,285.8 L416.7,284.7 L417.1,283.7 L417.6,283.1 L418.0,282.9 L418.4,283.1 L418.9,283.7 L419.3,284.7 L419.7,285.8 L420.1,287.1 L420.6,288.5 L421.0,289.6 L421.4,290.6 L421.9,291.2 L422.3,291.4 L422.7,291.2 L423.2,290.6 L423.6,289.6 L424.0,288.5 L424.5,287.1 L424.9,285.8 L425.3,284.7 L425.7,283.7 L426.2,283.1 L426.6,282.9 L427.1,283.2 L427.5,284.0 L427.9,285.3 L428.4,286.8 L428.9,288.3 L429.3,289.6 L429.8,290.4 L430.2,290.7 L430.6,290.5 L431.0,289.9 L431.4,288.9 L431.8,287.8 L432.2,286.5 L432.6,285.4 L433.0,284.4 L433.4,283.8 L433.8,283.6 L434.2,283.8 L434.7,284.5 L435.1,285.6 L435.6,286.8 L436.1,288.0 L436.5,289.1 L436.9,289.8 L437.4,290.0 L437.8,289.5 L438.2,288.3 L438.7,286.7 L439.1,285.5 L439.5,285.0 L439.9,285.4 L440.4,286.5 L440.8,287.8 L441.3,288.9 L441.7,289.3 L442.1,289.1 L442.5,288.4 L442.9,287.4 L443.3,286.2 L443.7,285.2 L444.1,284.5 L444.5,284.3 L455.0,287.9 L462.9,291.0 L471.5,296.3 L473.0,304.9 L491.6,307.7 L492.3,292.0 L493.8,268.4 L495.0,278.0 L496.6,287.7 L498.8,294.0 L501.6,297.7 L503.0,290.6 L504.5,279.9 L506.2,289.9 L508.0,292.7 L509.2,284.0 L510.2,274.9 L511.4,281.0 L512.4,286.3 L514.0,277.0 L515.2,269.1 L516.4,276.0 L517.4,281.3 L519.3,273.0 L521.4,266.4 L521.8,267.2 L522.2,269.4 L522.6,272.5 L523.1,276.0 L523.5,279.1 L523.9,281.3 L524.3,282.1 L524.7,281.5 L525.1,280.0 L525.5,277.7 L526.0,275.1 L526.4,272.8 L526.8,271.3 L527.2,270.7 L527.6,271.1 L528.1,272.3 L528.5,274.0 L529.0,276.0 L529.4,278.1 L529.8,279.8 L530.3,281.0 L530.7,281.4 L531.2,281.0 L531.6,279.8 L532.0,278.1 L532.5,276.1 L533.0,274.0 L533.4,272.3 L533.8,271.1 L534.3,270.7 L534.7,271.1 L535.1,272.2 L535.5,273.8 L536.0,275.5 L536.4,277.1 L536.8,278.2 L537.2,278.6 L537.7,278.3 L538.1,277.4 L538.5,276.2 L539.0,274.7 L539.5,273.1 L539.9,271.9 L540.3,271.0 L540.8,270.7 L541.2,271.1 L541.6,272.2 L542.0,273.8 L542.4,275.5 L542.8,277.1 L543.2,278.2 L543.6,278.6 L544.0,278.3 L544.4,277.6 L544.8,276.5 L545.2,275.0 L545.6,273.6 L546.0,272.2 L546.4,271.0 L546.8,270.3 L547.2,270.0 L547.7,270.3 L548.1,271.3 L548.5,272.7 L549.0,274.3 L549.5,275.9 L549.9,277.3 L550.3,278.3 L550.8,278.6 L551.2,278.3 L551.6,277.5 L552.0,276.3 L552.4,274.8 L552.8,273.1 L553.2,271.6 L553.6,270.4 L554.0,269.6 L554.4,269.3 L554.8,269.6 L555.2,270.3 L555.6,271.4 L556.0,272.9 L556.4,274.3 L556.8,275.8 L557.2,276.9 L557.6,277.6 L558.0,277.9 L558.4,277.7 L558.9,277.1 L559.3,276.1 L559.7,274.9 L560.1,273.6 L560.6,272.3 L561.0,271.1 L561.4,270.1 L561.9,269.5 L562.3,269.3 L562.7,269.7 L563.2,270.7 L563.6,272.2 L564.0,273.9 L564.5,275.7 L564.9,277.2 L565.4,278.2 L565.8,278.6 L566.2,278.3 L566.6,277.5 L567.0,276.3 L567.4,274.8 L567.8,273.1 L568.2,271.6 L568.6,270.4 L569.0,269.6 L569.4,269.3 L569.8,269.6 L570.2,270.4 L570.6,271.6 L571.0,273.1 L571.4,274.8 L571.8,276.3 L572.2,277.5 L572.6,278.3 L573.0,278.6 L573.4,278.4 L573.9,277.7 L574.3,276.7 L574.7,275.4 L575.1,274.0 L575.6,272.5 L576.0,271.2 L576.4,270.2 L576.9,269.5 L577.3,269.3 L577.7,269.5 L578.2,270.2 L578.6,271.2 L579.0,272.5 L579.5,273.9 L579.9,275.4 L580.3,276.7 L580.7,277.7 L581.2,278.4 L581.6,278.6 L582.0,278.3 L582.4,277.6 L582.8,276.5 L583.2,275.0 L583.6,273.6 L584.0,272.2 L584.4,271.0 L584.8,270.3 L585.2,270.0 L585.7,270.4 L586.1,271.5 L586.5,273.1 L587.0,275.0 L587.5,276.9 L587.9,278.5 L588.3,279.6 L588.8,280.0 L589.2,279.6 L589.7,278.5 L590.1,276.9 L590.5,275.0 L591.0,273.1 L591.4,271.5 L591.9,270.4 L592.3,270.0 L592.7,270.3 L593.1,271.2 L593.5,272.5 L593.9,274.1 L594.3,275.9 L594.7,277.5 L595.1,278.8 L595.5,279.7 L595.9,280.0 L596.3,279.8 L596.8,279.2 L597.2,278.2 L597.6,277.0 L598.0,275.7 L598.5,274.4 L598.9,273.2 L599.3,272.2 L599.8,271.6 L600.2,271.4 L600.7,271.7 L601.1,272.7 L601.5,274.1 L602.0,275.7 L602.5,277.3 L602.9,278.7 L603.3,279.7 L603.8,280.0 L604.2,279.7 L604.6,278.9 L605.0,277.7 L605.4,276.2 L605.8,274.5 L606.2,273.0 L606.6,271.8 L607.0,271.0 L607.4,270.7 L607.8,271.0 L608.2,271.7 L608.6,272.8 L609.0,274.3 L609.4,275.7 L609.8,277.1 L610.2,278.3 L610.6,279.0 L611.0,279.3 L611.4,279.0 L611.8,278.0 L612.2,276.6 L612.6,274.9 L613.0,273.0 L613.4,271.3 L613.8,269.9 L614.2,268.9 L614.6,268.6 L615.1,269.4 L615.6,271.5 L616.0,274.1 L616.5,276.2 L617.0,277.0" fill="none" stroke="#ff80a8" stroke-width="2" stroke-linejoin="round" />
<path d="M67.0,292.4 L78.1,296.3 L88.9,300.1 L105.0,303.8 L111.4,304.4 L126.4,307.1 L129.1,307.8 L130.5,304.0 L131.8,299.0 L133.4,297.7 L136.0,300.5 L140.0,303.6 L146.0,305.3 L147.5,301.5 L149.0,298.3 L151.0,300.8 L153.0,300.0 L155.0,296.2 L156.5,295.5 L156.9,295.6 L157.4,295.8 L157.8,296.1 L158.3,296.3 L158.8,296.5 L159.2,296.6 L159.6,296.4 L160.0,295.8 L160.4,294.9 L160.9,293.8 L161.3,292.9 L161.7,292.3 L162.1,292.1 L162.5,292.3 L162.9,292.9 L163.3,293.8 L163.8,294.9 L164.2,295.8 L164.6,296.4 L165.0,296.6 L165.4,296.4 L165.8,295.9 L166.2,295.2 L166.6,294.4 L167.0,293.5 L167.4,292.8 L167.8,292.3 L168.2,292.1 L168.7,292.3 L169.1,292.8 L169.5,293.5 L169.9,294.4 L170.3,295.2 L170.7,295.9 L171.1,296.4 L171.5,296.6 L171.9,296.4 L172.4,295.9 L172.8,295.2 L173.3,294.4 L173.7,293.5 L174.2,292.8 L174.6,292.3 L175.1,292.1 L175.5,292.3 L175.9,292.8 L176.4,293.5 L176.8,294.4 L177.3,295.2 L177.7,295.9 L178.2,296.4 L178.6,296.6 L179.0,296.4 L179.5,295.9 L179.9,295.2 L180.4,294.4 L180.8,293.5 L181.3,292.8 L181.7,292.3 L182.1,292.1 L182.6,292.3 L183.0,292.8 L183.5,293.5 L183.9,294.4 L184.4,295.2 L184.8,295.9 L185.3,296.4 L185.7,296.6 L186.1,296.5 L186.6,296.1 L187.0,295.5 L187.5,294.7 L187.9,294.0 L188.3,293.2 L188.8,292.6 L189.2,292.2 L189.6,292.1 L190.1,292.2 L190.5,292.6 L191.0,293.2 L191.4,294.0 L191.8,294.7 L192.3,295.5 L192.7,296.1 L193.2,296.5 L193.6,296.6 L194.0,296.4 L194.4,295.9 L194.8,295.2 L195.2,294.4 L195.6,293.5 L196.0,292.8 L196.4,292.3 L196.8,292.1 L197.3,292.3 L197.7,292.9 L198.2,293.8 L198.6,294.9 L199.1,295.8 L199.5,296.4 L200.0,296.6 L200.4,296.5 L200.8,296.2 L201.2,295.7 L201.6,295.0 L202.0,294.4 L202.4,293.7 L202.8,293.0 L203.2,292.5 L203.6,292.2 L204.0,292.1 L204.4,292.2 L204.8,292.5 L205.2,293.0 L205.6,293.7 L206.0,294.4 L206.4,295.0 L206.8,295.7 L207.2,296.2 L207.6,296.5 L208.0,296.6 L208.4,296.4 L208.9,295.9 L209.3,295.2 L209.8,294.4 L210.2,293.5 L210.6,292.8 L211.1,292.3 L211.5,292.1 L211.9,292.3 L212.4,292.8 L212.8,293.5 L213.2,294.4 L213.7,295.2 L214.1,295.9 L214.6,296.4 L215.0,296.6 L215.4,296.5 L215.8,296.1 L216.2,295.5 L216.6,294.7 L217.0,294.0 L217.4,293.2 L217.8,292.6 L218.2,292.2 L218.7,292.1 L219.1,292.2 L219.5,292.6 L219.9,293.2 L220.3,294.0 L220.7,294.7 L221.1,295.5 L221.5,296.1 L221.9,296.5 L222.3,296.6 L222.7,296.4 L223.2,295.9 L223.6,295.2 L224.1,294.4 L224.5,293.5 L225.0,292.8 L225.4,292.3 L225.9,292.1 L226.3,292.3 L226.7,292.8 L227.2,293.5 L227.6,294.4 L228.1,295.2 L228.5,295.9 L229.0,296.4 L229.4,296.6 L229.8,296.5 L230.3,296.1 L230.7,295.5 L231.2,294.7 L231.6,294.0 L232.0,293.2 L232.5,292.6 L232.9,292.2 L233.4,292.1 L233.8,292.2 L234.2,292.6 L234.7,293.2 L235.1,294.0 L235.5,294.7 L236.0,295.5 L236.4,296.1 L236.9,296.5 L237.3,296.6 L237.8,296.4 L238.2,295.9 L238.7,295.2 L239.1,294.4 L239.6,293.5 L240.0,292.8 L240.5,292.3 L240.9,292.1 L241.3,292.3 L241.8,292.8 L242.2,293.5 L242.7,294.4 L243.2,295.2 L243.6,295.9 L244.1,296.4 L244.5,296.6 L244.9,296.4 L245.3,295.9 L245.7,295.2 L246.1,294.4 L246.5,293.5 L246.9,292.8 L247.3,292.3 L247.8,292.1 L248.2,292.3 L248.6,292.7 L249.0,293.4 L249.4,294.2 L249.8,295.1 L250.2,295.8 L250.6,296.2 L251.0,296.4 L251.4,296.2 L251.9,295.8 L252.3,295.1 L252.8,294.2 L253.2,293.4 L253.6,292.7 L254.1,292.3 L254.5,292.1 L254.9,292.3 L255.4,292.7 L255.8,293.4 L256.2,294.2 L256.7,295.1 L257.1,295.8 L257.6,296.2 L258.0,296.4 L258.4,296.3 L258.8,296.0 L259.2,295.5 L259.6,294.9 L260.0,294.2 L260.4,293.6 L260.8,293.0 L261.2,292.5 L261.6,292.2 L262.0,292.1 L262.4,292.2 L262.8,292.5 L263.2,293.0 L263.6,293.6 L264.0,294.2 L264.4,294.9 L264.8,295.5 L265.2,296.0 L265.6,296.3 L266.0,296.4 L266.4,296.3 L266.8,296.0 L267.2,295.5 L267.7,294.9 L268.1,294.2 L268.5,293.6 L268.9,293.0 L269.3,292.5 L269.7,292.2 L270.1,292.1 L270.6,292.2 L271.0,292.4 L271.4,292.7 L271.8,293.1 L272.2,293.6 L272.6,294.0 L273.1,294.4 L273.5,294.7 L273.9,294.9 L274.3,295.0 L274.7,294.9 L275.2,294.7 L275.6,294.4 L276.0,294.0 L276.5,293.6 L276.9,293.1 L277.3,292.7 L277.7,292.4 L278.2,292.2 L278.6,292.1 L279.0,292.2 L279.5,292.4 L279.9,292.7 L280.3,293.1 L280.8,293.6 L281.2,294.0 L281.6,294.4 L282.0,294.7 L282.5,294.9 L282.9,295.0 L283.3,294.9 L283.8,294.7 L284.2,294.4 L284.6,294.0 L285.0,293.6 L285.5,293.1 L285.9,292.7 L286.3,292.4 L286.8,292.2 L287.2,292.1 L287.6,292.2 L288.1,292.4 L288.5,292.7 L288.9,293.1 L289.4,293.6 L289.8,294.0 L290.2,294.4 L290.6,294.7 L291.1,294.9 L291.5,295.0 L291.9,294.9 L292.4,294.7 L292.8,294.4 L293.2,294.0 L293.6,293.6 L294.1,293.1 L294.5,292.7 L294.9,292.4 L295.4,292.2 L295.8,292.1 L296.2,292.2 L296.7,292.4 L297.1,292.7 L297.5,293.1 L298.0,293.6 L298.4,294.0 L298.8,294.4 L299.2,294.7 L299.7,294.9 L300.1,295.0 L300.5,295.0 L300.9,294.8 L301.3,294.6 L301.8,294.3 L302.2,293.9 L302.6,293.6 L303.0,293.2 L303.4,292.8 L303.8,292.5 L304.2,292.3 L304.6,292.1 L305.1,292.1 L305.5,292.1 L305.9,292.2 L306.3,292.4 L306.7,292.7 L307.1,292.9 L307.5,293.2 L307.9,293.5 L308.4,293.8 L308.8,294.0 L309.2,294.2 L309.6,294.3 L310.0,294.3 L310.4,294.3 L310.8,294.2 L311.2,294.1 L311.7,293.9 L312.1,293.7 L312.5,293.4 L312.9,293.2 L313.3,293.0 L313.7,292.7 L314.1,292.5 L314.6,292.3 L315.0,292.2 L315.4,292.1 L315.8,292.1 L316.2,292.2 L316.6,292.3 L317.1,292.6 L317.5,293.0 L317.9,293.4 L318.3,293.7 L318.7,294.1 L319.2,294.4 L319.6,294.5 L320.0,294.6 L320.4,294.6 L320.8,294.5 L321.3,294.4 L321.7,294.3 L322.1,294.1 L322.5,293.9 L323.0,293.7 L323.4,293.5 L323.8,293.2 L324.2,293.0 L324.7,292.8 L325.1,292.6 L325.5,292.4 L325.9,292.3 L326.4,292.2 L326.8,292.1 L327.2,292.1 L327.6,292.1 L328.0,292.2 L328.4,292.3 L328.8,292.5 L329.2,292.7 L329.6,293.0 L330.0,293.3 L330.4,293.6 L330.9,293.8 L331.3,294.1 L331.7,294.4 L332.1,294.6 L332.5,294.8 L332.9,294.9 L333.3,295.0 L333.7,295.0 L334.1,295.0 L334.5,294.9 L334.9,294.7 L335.4,294.5 L335.8,294.2 L336.2,293.9 L336.6,293.7 L337.0,293.4 L337.4,293.2 L337.9,293.0 L338.3,292.9 L338.7,292.9 L339.1,292.9 L339.5,293.0 L339.9,293.0 L340.3,293.2 L340.7,293.3 L341.1,293.5 L341.5,293.7 L341.9,293.9 L342.3,294.1 L342.7,294.4 L343.1,294.6 L343.5,294.9 L343.9,295.1 L344.3,295.4 L344.7,295.6 L345.1,295.9 L345.5,296.1 L345.9,296.3 L346.3,296.5 L346.7,296.7 L347.1,296.8 L347.5,297.0 L347.9,297.0 L348.3,297.1 L348.7,297.1 L349.1,297.1 L349.5,297.0 L350.0,296.9 L350.4,296.8 L350.8,296.6 L351.2,296.4 L351.7,296.2 L352.1,296.0 L352.5,295.7 L352.9,295.5 L353.4,295.3 L353.8,295.1 L354.2,294.9 L354.6,294.8 L355.1,294.7 L355.5,294.6 L355.9,294.6 L356.3,294.6 L356.7,294.7 L357.1,294.9 L357.5,295.1 L357.9,295.3 L358.3,295.6 L358.8,295.9 L359.2,296.1 L359.6,296.4 L360.0,296.6 L360.4,296.8 L360.8,297.0 L361.2,297.1 L361.6,297.1 L362.0,297.1 L362.4,297.1 L362.8,297.0 L363.2,296.9 L363.6,296.9 L364.0,296.8 L364.4,296.6 L364.8,296.5 L365.2,296.4 L365.6,296.2 L366.0,296.1 L366.4,295.9 L366.8,295.8 L367.2,295.6 L367.6,295.5 L368.0,295.3 L368.4,295.2 L368.8,295.1 L369.2,294.9 L369.6,294.8 L370.0,294.8 L370.4,294.7 L370.8,294.6 L371.2,294.6 L371.6,294.6 L372.0,294.6 L372.4,294.6 L372.8,294.7 L373.2,294.7 L373.6,294.7 L374.1,294.8 L374.5,294.9 L374.9,294.9 L375.3,295.0 L375.7,295.1 L376.1,295.2 L376.5,295.3 L376.9,295.4 L377.3,295.4 L377.7,295.5 L378.2,295.6 L378.6,295.6 L379.0,295.6 L379.4,295.7 L379.8,295.7 L380.2,295.7 L380.6,295.7 L381.0,295.7 L381.4,295.6 L381.8,295.5 L382.2,295.4 L382.7,295.3 L383.1,295.2 L383.5,295.0 L383.9,294.9 L384.3,294.7 L384.7,294.6 L385.1,294.4 L385.5,294.3 L385.9,294.1 L386.3,294.0 L386.8,293.9 L387.2,293.8 L387.6,293.7 L388.0,293.6 L388.4,293.6 L388.8,293.6 L389.2,293.6 L389.6,293.7 L390.0,293.9 L390.4,294.1 L390.8,294.4 L391.2,294.7 L391.6,295.0 L392.1,295.4 L392.5,295.7 L392.9,296.0 L393.3,296.3 L393.7,296.6 L394.1,296.8 L394.5,297.0 L394.9,297.1 L395.3,297.1 L395.7,297.0 L396.1,296.9 L396.6,296.6 L397.0,296.2 L397.4,295.7 L397.8,295.3 L398.3,294.7 L398.7,294.3 L399.1,293.8 L399.5,293.4 L400.0,293.1 L400.4,293.0 L400.8,292.9 L401.2,293.0 L401.6,293.1 L402.1,293.4 L402.5,293.8 L402.9,294.2 L403.4,294.6 L403.8,295.1 L404.2,295.5 L404.6,295.9 L405.0,296.2 L405.5,296.3 L405.9,296.4 L406.3,296.3 L406.8,296.1 L407.2,295.7 L407.6,295.2 L408.0,294.6 L408.5,294.1 L408.9,293.6 L409.3,293.2 L409.8,293.0 L410.2,292.9 L410.6,293.0 L411.0,293.2 L411.4,293.5 L411.9,293.8 L412.3,294.3 L412.7,294.8 L413.1,295.3 L413.5,295.8 L413.9,296.1 L414.4,296.4 L414.8,296.6 L415.2,296.7 L415.6,296.6 L416.1,296.2 L416.5,295.7 L416.9,295.0 L417.4,294.3 L417.8,293.6 L418.2,292.9 L418.6,292.4 L419.1,292.0 L419.5,291.9 L419.9,292.0 L420.3,292.2 L420.8,292.6 L421.2,293.0 L421.6,293.6 L422.0,294.1 L422.4,294.7 L422.8,295.3 L423.2,295.7 L423.7,296.1 L424.1,296.3 L424.5,296.4 L424.9,296.3 L425.4,296.0 L425.8,295.5 L426.2,294.9 L426.6,294.2 L427.1,293.6 L427.5,293.0 L427.9,292.5 L428.4,292.2 L428.8,292.1 L429.2,292.2 L429.7,292.4 L430.1,292.8 L430.5,293.3 L430.9,293.8 L431.4,294.4 L431.8,294.9 L432.2,295.4 L432.6,295.8 L433.1,296.0 L433.5,296.1 L433.9,296.0 L434.3,295.9 L434.7,295.6 L435.1,295.2 L435.5,294.8 L435.9,294.3 L436.4,293.9 L436.8,293.4 L437.2,293.0 L437.6,292.6 L438.0,292.3 L438.4,292.2 L438.8,292.1 L444.3,295.6 L446.7,297.1 L458.7,300.6 L473.0,304.9 L491.6,307.7 L493.8,306.3 L495.2,297.7 L497.3,294.1 L500.2,298.4 L503.8,302.0 L506.6,297.0 L508.8,297.7 L511.7,294.1 L513.8,295.6 L517.4,290.6 L519.5,292.7 L520.7,293.6 L521.1,293.1 L521.6,291.9 L522.0,290.3 L522.5,289.1 L522.9,288.6 L523.3,288.7 L523.7,289.0 L524.1,289.4 L524.5,289.9 L524.9,290.3 L525.3,290.6 L525.7,290.7 L526.1,290.6 L526.5,290.2 L526.9,289.6 L527.4,289.0 L527.8,288.4 L528.2,288.0 L528.6,287.9 L529.0,288.0 L529.4,288.2 L529.8,288.5 L530.2,288.9 L530.6,289.4 L531.0,289.8 L531.4,290.1 L531.8,290.3 L532.2,290.4 L532.7,290.3 L533.1,289.9 L533.5,289.4 L534.0,288.8 L534.5,288.1 L534.9,287.6 L535.3,287.2 L535.8,287.1 L536.2,287.2 L536.7,287.5 L537.1,288.0 L537.5,288.6 L538.0,289.1 L538.4,289.6 L538.9,289.9 L539.3,290.0 L539.7,289.9 L540.1,289.6 L540.5,289.2 L540.9,288.6 L541.3,288.1 L541.7,287.5 L542.1,287.1 L542.5,286.8 L542.9,286.7 L543.3,286.8 L543.7,287.0 L544.1,287.4 L544.5,287.9 L544.9,288.4 L545.3,288.9 L545.7,289.3 L546.1,289.5 L546.5,289.6 L546.9,289.5 L547.3,289.2 L547.7,288.8 L548.1,288.3 L548.5,287.7 L548.9,287.2 L549.3,286.8 L549.7,286.5 L550.1,286.4 L550.5,286.5 L550.9,286.7 L551.3,287.1 L551.7,287.6 L552.1,288.1 L552.5,288.6 L552.9,289.0 L553.3,289.2 L553.7,289.3 L554.1,289.2 L554.6,288.8 L555.0,288.2 L555.5,287.5 L555.9,286.8 L556.3,286.2 L556.8,285.8 L557.2,285.7 L557.7,285.8 L558.1,286.1 L558.5,286.6 L559.0,287.2 L559.5,287.8 L559.9,288.3 L560.3,288.6 L560.8,288.7 L561.2,288.6 L561.6,288.3 L562.0,287.8 L562.4,287.2 L562.8,286.5 L563.2,285.9 L563.6,285.4 L564.0,285.1 L564.4,285.0 L564.8,285.1 L565.2,285.4 L565.6,285.9 L566.0,286.5 L566.4,287.1 L566.8,287.7 L567.2,288.2 L567.6,288.5 L568.0,288.6 L568.4,288.5 L568.8,288.2 L569.2,287.7 L569.6,287.1 L570.0,286.5 L570.4,285.9 L570.8,285.4 L571.2,285.1 L571.6,285.0 L572.0,285.1 L572.5,285.4 L572.9,285.8 L573.3,286.4 L573.8,287.0 L574.2,287.6 L574.6,288.2 L575.0,288.6 L575.5,288.9 L575.9,289.0 L576.3,288.9 L576.7,288.6 L577.1,288.2 L577.5,287.6 L577.9,287.1 L578.3,286.5 L578.7,286.1 L579.1,285.8 L579.5,285.7 L579.9,285.8 L580.4,286.0 L580.8,286.4 L581.2,286.9 L581.6,287.5 L582.1,288.1 L582.5,288.6 L582.9,289.0 L583.4,289.2 L583.8,289.3 L584.2,289.2 L584.7,288.8 L585.1,288.2 L585.5,287.5 L586.0,286.8 L586.4,286.2 L586.9,285.8 L587.3,285.7 L587.7,285.8 L588.1,286.1 L588.5,286.6 L588.9,287.2 L589.3,287.8 L589.7,288.4 L590.1,288.9 L590.5,289.2 L590.9,289.3 L591.3,289.2 L591.7,288.8 L592.1,288.3 L592.5,287.6 L592.9,287.0 L593.3,286.3 L593.7,285.8 L594.1,285.4 L594.5,285.3 L594.9,285.4 L595.4,285.7 L595.8,286.2 L596.2,286.8 L596.6,287.4 L597.1,288.1 L597.5,288.7 L597.9,289.2 L598.4,289.5 L598.8,289.6 L599.2,289.5 L599.7,289.2 L600.1,288.8 L600.5,288.3 L601.0,287.7 L601.4,287.0 L601.8,286.5 L602.2,286.1 L602.7,285.8 L603.1,285.7 L603.5,285.8 L603.9,286.1 L604.3,286.6 L604.7,287.2 L605.1,287.8 L605.5,288.4 L605.9,288.9 L606.3,289.2 L606.7,289.3 L607.2,289.1 L607.6,288.7 L608.0,288.0 L608.5,287.2 L609.0,286.3 L609.4,285.6 L609.8,285.2 L610.3,285.0 L610.7,285.2 L611.2,285.6 L611.6,286.3 L612.0,287.1 L612.5,288.0 L612.9,288.7 L613.4,289.1 L613.8,289.3 L614.2,289.2 L614.6,288.8 L615.0,288.2 L615.4,287.5 L615.8,286.8 L616.2,286.2 L616.6,285.8 L617.0,285.7" fill="none" stroke="#0000ff" stroke-width="2" stroke-linejoin="round" />
<path d="M67.0,170.4 L105.0,172.2 L160.9,175.3 L163.7,177.2 L166.6,179.8 L173.8,180.5 L183.8,179.8 L196.7,178.9 L209.3,175.8 L230.8,170.7 L250.9,166.7 L266.6,167.2 L295.0,168.6 L330.0,169.6 L450.0,175.0 L526.0,179.0 L529.0,179.5 L532.0,181.0 L550.0,181.8 L556.0,181.6 L560.1,180.1 L566.5,179.3 L580.0,178.7 L600.0,177.5 L606.1,176.1 L612.5,175.1 L617.0,175.0" fill="none" stroke="#a80000" stroke-width="2" stroke-linejoin="round" />
<path d="M67.0,237.0 L119.0,238.6 L120.3,238.8 L123.1,232.7 L126.0,226.0 L129.0,222.5 L135.7,218.8 L143.2,211.4 L146.5,204.6 L150.8,196.2 L162.3,190.8 L170.9,186.2 L176.6,184.8 L191.0,183.6 L205.0,182.5 L216.5,179.3 L238.0,173.6 L252.3,170.7 L258.8,170.5 L266.6,173.6 L281.0,180.8 L295.0,187.9 L307.9,195.0 L328.0,205.7 L348.0,215.0 L365.2,222.2 L380.0,227.0 L400.0,229.6 L420.0,231.4 L440.0,232.6 L460.0,233.0 L484.4,233.6 L487.0,229.8 L489.7,225.6 L492.3,221.8 L495.5,219.7 L499.2,216.5 L503.5,212.8 L506.7,209.1 L509.8,204.3 L513.0,200.1 L516.2,196.9 L520.5,194.8 L524.7,193.2 L530.0,190.6 L540.0,187.0 L550.0,186.0 L560.7,185.4 L570.0,183.8 L583.0,182.3 L617.0,180.0" fill="none" stroke="#8b008b" stroke-width="2" stroke-linejoin="round" />
<path d="M67,373.4 H617" stroke="#ff00ff" stroke-width="2" fill="none"/>
<path d="M67.0,369.0 L69.0,368.8 L72.0,369.8 L85.0,370.4 L87.0,370.6 L89.0,369.6 L92.0,370.4 L120.0,370.6 L200.0,370.7 L260.0,371.2 L314.5,371.6 L329.5,369.5 L340.0,368.3 L352.0,367.0 L357.0,368.0 L362.6,368.9 L370.0,367.8 L376.0,367.3 L386.7,368.6 L395.8,367.7 L404.0,369.0 L413.0,370.2 L423.0,369.2 L433.0,368.5 L437.0,369.3 L442.8,371.1 L465.9,373.1 L485.7,375.8 L508.7,377.7 L513.7,376.7 L518.6,377.7 L531.8,377.4 L545.0,379.0 L564.7,381.4 L581.2,379.4 L597.7,378.7 L607.6,379.7 L617.0,379.7" fill="none" stroke="#ff00ff" stroke-width="2" stroke-linejoin="round" />
<path d="M67.0,280.0 L80.0,279.8 L112.0,281.6 L118.0,283.0 L122.0,284.4 L128.0,284.0 L132.0,283.1 L140.0,282.2 L180.0,282.2 L200.0,282.6 L300.0,282.6 L400.0,282.6 L442.0,282.6 L470.0,284.4 L485.0,286.5 L490.0,287.0 L494.0,286.0 L500.0,284.8 L560.0,283.0 L617.0,282.0" fill="none" stroke="#cccc00" stroke-width="2" stroke-linejoin="round" />
<path d="M67.0,308.1 L69.0,310.3 L90.0,310.9 L108.2,311.4 L109.6,308.5 L110.9,306.0 L112.2,308.5 L113.6,311.4 L120.0,311.2 L126.4,310.8 L127.5,310.5" fill="none" stroke="#ff0000" stroke-width="2" stroke-linejoin="round" />
<path d="M444.0,308.0 L445.0,310.5 L448.0,312.6 L460.0,313.0 L471.0,313.0 L472.0,305.0 L473.0,293.0 L474.5,293.0 L476.0,306.0 L478.0,312.0 L480.0,313.0 L491.0,313.0 L492.0,305.0 L493.0,293.0" fill="none" stroke="#ff0000" stroke-width="2" stroke-linejoin="round" />
<path d="M129.0,289.0 L130.0,285.0 L132.0,281.4 L140.0,281.3 L180.0,281.0 L200.0,280.6 L270.0,280.6 L274.0,279.6 L277.0,279.2 L282.0,280.3 L300.0,280.5 L400.0,280.4 L442.0,280.6 L442.8,285.0 L443.2,289.0" fill="none" stroke="#00ff00" stroke-width="2" stroke-linejoin="round" />
<path d="M473.0,293.0 L473.0,297.0" fill="none" stroke="#00ff00" stroke-width="2" stroke-linejoin="round" />
<path d="M492.4,293.0 L493.0,288.0 L494.0,285.0 L500.0,284.2 L540.0,283.3 L580.0,282.4 L617.0,281.5" fill="none" stroke="#00ff00" stroke-width="2" stroke-linejoin="round" />
<path d="M72.5,31 V387" stroke="rgba(222,79,79,0.33)" stroke-width="1"/>
<path d="M84.5,33 V384" stroke="rgba(143,143,143,0.24)" stroke-width="1"/>
<path d="M95.5,33 V384" stroke="rgba(143,143,143,0.24)" stroke-width="1"/>
<path d="M107.5,33 V384" stroke="rgba(143,143,143,0.24)" stroke-width="1"/>
<path d="M118.5,31 V387" stroke="rgba(222,79,79,0.33)" stroke-width="1"/>
<path d="M130.5,33 V384" stroke="rgba(143,143,143,0.24)" stroke-width="1"/>
<path d="M141.5,33 V384" stroke="rgba(143,143,143,0.24)" stroke-width="1"/>
<path d="M152.5,33 V384" stroke="rgba(143,143,143,0.24)" stroke-width="1"/>
<path d="M164.5,31 V387" stroke="rgba(222,79,79,0.33)" stroke-width="1"/>
<path d="M175.5,33 V384" stroke="rgba(143,143,143,0.24)" stroke-width="1"/>
<path d="M187.5,33 V384" stroke="rgba(143,143,143,0.24)" stroke-width="1"/>
<path d="M198.5,33 V384" stroke="rgba(143,143,143,0.24)" stroke-width="1"/>
<path d="M210.5,31 V387" stroke="rgba(222,79,79,0.33)" stroke-width="1"/>
<path d="M221.5,33 V384" stroke="rgba(143,143,143,0.24)" stroke-width="1"/>
<path d="M233.5,33 V384" stroke="rgba(143,143,143,0.24)" stroke-width="1"/>
<path d="M244.5,33 V384" stroke="rgba(143,143,143,0.24)" stroke-width="1"/>
<path d="M256.5,31 V387" stroke="rgba(222,79,79,0.33)" stroke-width="1"/>
<path d="M267.5,33 V384" stroke="rgba(143,143,143,0.24)" stroke-width="1"/>
<path d="M278.5,33 V384" stroke="rgba(143,143,143,0.24)" stroke-width="1"/>
<path d="M290.5,33 V384" stroke="rgba(143,143,143,0.24)" stroke-width="1"/>
<path d="M301.5,31 V387" stroke="rgba(222,79,79,0.33)" stroke-width="1"/>
<path d="M313.5,33 V384" stroke="rgba(143,143,143,0.24)" stroke-width="1"/>
<path d="M324.5,33 V384" stroke="rgba(143,143,143,0.24)" stroke-width="1"/>
<path d="M336.5,33 V384" stroke="rgba(143,143,143,0.24)" stroke-width="1"/>
<path d="M347.5,31 V387" stroke="rgba(222,79,79,0.33)" stroke-width="1"/>
<path d="M359.5,33 V384" stroke="rgba(143,143,143,0.24)" stroke-width="1"/>
<path d="M370.5,33 V384" stroke="rgba(143,143,143,0.24)" stroke-width="1"/>
<path d="M382.5,33 V384" stroke="rgba(143,143,143,0.24)" stroke-width="1"/>
<path d="M393.5,31 V387" stroke="rgba(222,79,79,0.33)" stroke-width="1"/>
<path d="M405.5,33 V384" stroke="rgba(143,143,143,0.24)" stroke-width="1"/>
<path d="M416.5,33 V384" stroke="rgba(143,143,143,0.24)" stroke-width="1"/>
<path d="M427.5,33 V384" stroke="rgba(143,143,143,0.24)" stroke-width="1"/>
<path d="M439.5,31 V387" stroke="rgba(222,79,79,0.33)" stroke-width="1"/>
<path d="M450.5,33 V384" stroke="rgba(143,143,143,0.24)" stroke-width="1"/>
<path d="M462.5,33 V384" stroke="rgba(143,143,143,0.24)" stroke-width="1"/>
<path d="M473.5,33 V384" stroke="rgba(143,143,143,0.24)" stroke-width="1"/>
<path d="M485.5,31 V387" stroke="rgba(222,79,79,0.33)" stroke-width="1"/>
<path d="M496.5,33 V384" stroke="rgba(143,143,143,0.24)" stroke-width="1"/>
<path d="M508.5,33 V384" stroke="rgba(143,143,143,0.24)" stroke-width="1"/>
<path d="M519.5,33 V384" stroke="rgba(143,143,143,0.24)" stroke-width="1"/>
<path d="M531.5,31 V387" stroke="rgba(222,79,79,0.33)" stroke-width="1"/>
<path d="M542.5,33 V384" stroke="rgba(143,143,143,0.24)" stroke-width="1"/>
<path d="M553.5,33 V384" stroke="rgba(143,143,143,0.24)" stroke-width="1"/>
<path d="M565.5,33 V384" stroke="rgba(143,143,143,0.24)" stroke-width="1"/>
<path d="M576.5,31 V387" stroke="rgba(222,79,79,0.33)" stroke-width="1"/>
<path d="M588.5,33 V384" stroke="rgba(143,143,143,0.24)" stroke-width="1"/>
<path d="M599.5,33 V384" stroke="rgba(143,143,143,0.24)" stroke-width="1"/>
<path d="M611.5,33 V384" stroke="rgba(143,143,143,0.24)" stroke-width="1"/>
<path d="M65,373.5 H620" stroke="rgba(222,79,79,0.33)" stroke-width="1"/>
<path d="M67,357.5 H618" stroke="rgba(143,143,143,0.24)" stroke-width="1"/>
<path d="M65,341.5 H620" stroke="rgba(222,79,79,0.33)" stroke-width="1"/>
<path d="M67,325.5 H618" stroke="rgba(143,143,143,0.24)" stroke-width="1"/>
<path d="M65,309.5 H620" stroke="rgba(222,79,79,0.33)" stroke-width="1"/>
<path d="M67,293.5 H618" stroke="rgba(143,143,143,0.24)" stroke-width="1"/>
<path d="M65,277.5 H620" stroke="rgba(222,79,79,0.33)" stroke-width="1"/>
<path d="M67,261.5 H618" stroke="rgba(143,143,143,0.24)" stroke-width="1"/>
<path d="M65,245.5 H620" stroke="rgba(222,79,79,0.33)" stroke-width="1"/>
<path d="M67,229.5 H618" stroke="rgba(143,143,143,0.24)" stroke-width="1"/>
<path d="M65,213.5 H620" stroke="rgba(222,79,79,0.33)" stroke-width="1"/>
<path d="M67,197.5 H618" stroke="rgba(143,143,143,0.24)" stroke-width="1"/>
<path d="M65,181.5 H620" stroke="rgba(222,79,79,0.33)" stroke-width="1"/>
<path d="M67,165.5 H618" stroke="rgba(143,143,143,0.24)" stroke-width="1"/>
<path d="M65,149.5 H620" stroke="rgba(222,79,79,0.33)" stroke-width="1"/>
<path d="M67,133.5 H618" stroke="rgba(143,143,143,0.24)" stroke-width="1"/>
<path d="M65,117.5 H620" stroke="rgba(222,79,79,0.33)" stroke-width="1"/>
<path d="M67,101.5 H618" stroke="rgba(143,143,143,0.24)" stroke-width="1"/>
<path d="M65,85.5 H620" stroke="rgba(222,79,79,0.33)" stroke-width="1"/>
<path d="M67,69.5 H618" stroke="rgba(143,143,143,0.24)" stroke-width="1"/>
<path d="M65,53.5 H620" stroke="rgba(222,79,79,0.33)" stroke-width="1"/>
<path d="M67,37.5 H618" stroke="rgba(143,143,143,0.24)" stroke-width="1"/>
<path d="M63,383.5 H619" stroke="#6c6c6c" stroke-width="1" fill="none"/>
<path d="M67.5,31 V388" stroke="#6c6c6c" stroke-width="1" fill="none"/>
<path d="M617.5,31 V388" stroke="#6c6c6c" stroke-width="1" fill="none"/>
<path d="M67.5,26 L70,31 H65 Z" fill="#7f1f1f"/>
<path d="M617.5,26 L620,31 H615 Z" fill="#7f1f1f"/>
<path d="M624,383.5 L619,381 V386 Z" fill="#7f1f1f"/>
<text x="98.9" y="20.8" font-size="12.4px" text-anchor="start" letter-spacing="0.500" fill="#141414" xml:space="preserve" >Temperaturverlauf und Fuellstand am: 04.02.2018, Stand 23:45Uhr</text>
<text x="60.7" y="376.9" font-size="10.4px" text-anchor="end" letter-spacing="0" fill="#141414" xml:space="preserve" >0</text>
<text x="655.0" y="376.9" font-size="10.4px" text-anchor="end" letter-spacing="0" fill="#141414" xml:space="preserve" >0</text>
<text x="60.7" y="344.9" font-size="10.4px" text-anchor="end" letter-spacing="0" fill="#141414" xml:space="preserve" >10</text>
<text x="655.0" y="344.9" font-size="10.4px" text-anchor="end" letter-spacing="0" fill="#141414" xml:space="preserve" >10</text>
<text x="60.7" y="312.9" font-size="10.4px" text-anchor="end" letter-spacing="0" fill="#141414" xml:space="preserve" >20</text>
<text x="655.0" y="312.9" font-size="10.4px" text-anchor="end" letter-spacing="0" fill="#141414" xml:space="preserve" >20</text>
<text x="60.7" y="280.9" font-size="10.4px" text-anchor="end" letter-spacing="0" fill="#141414" xml:space="preserve" >30</text>
<text x="655.0" y="280.9" font-size="10.4px" text-anchor="end" letter-spacing="0" fill="#141414" xml:space="preserve" >30</text>
<text x="60.7" y="248.9" font-size="10.4px" text-anchor="end" letter-spacing="0" fill="#141414" xml:space="preserve" >40</text>
<text x="655.0" y="248.9" font-size="10.4px" text-anchor="end" letter-spacing="0" fill="#141414" xml:space="preserve" >40</text>
<text x="60.7" y="216.9" font-size="10.4px" text-anchor="end" letter-spacing="0" fill="#141414" xml:space="preserve" >50</text>
<text x="655.0" y="216.9" font-size="10.4px" text-anchor="end" letter-spacing="0" fill="#141414" xml:space="preserve" >50</text>
<text x="60.7" y="184.9" font-size="10.4px" text-anchor="end" letter-spacing="0" fill="#141414" xml:space="preserve" >60</text>
<text x="655.0" y="184.9" font-size="10.4px" text-anchor="end" letter-spacing="0" fill="#141414" xml:space="preserve" >60</text>
<text x="60.7" y="152.9" font-size="10.4px" text-anchor="end" letter-spacing="0" fill="#141414" xml:space="preserve" >70</text>
<text x="655.0" y="152.9" font-size="10.4px" text-anchor="end" letter-spacing="0" fill="#141414" xml:space="preserve" >70</text>
<text x="60.7" y="120.9" font-size="10.4px" text-anchor="end" letter-spacing="0" fill="#141414" xml:space="preserve" >80</text>
<text x="655.0" y="120.9" font-size="10.4px" text-anchor="end" letter-spacing="0" fill="#141414" xml:space="preserve" >80</text>
<text x="60.7" y="88.9" font-size="10.4px" text-anchor="end" letter-spacing="0" fill="#141414" xml:space="preserve" >90</text>
<text x="655.0" y="88.9" font-size="10.4px" text-anchor="end" letter-spacing="0" fill="#141414" xml:space="preserve" >90</text>
<text x="60.7" y="56.9" font-size="10.4px" text-anchor="end" letter-spacing="0" fill="#141414" xml:space="preserve" >100</text>
<text x="655.0" y="56.9" font-size="10.4px" text-anchor="end" letter-spacing="0" fill="#141414" xml:space="preserve" >100</text>
<text x="72.6" y="397.5" font-size="10.4px" text-anchor="middle" letter-spacing="-0.161" fill="#141414" xml:space="preserve" >Sun 00:00</text>
<text x="210.1" y="397.5" font-size="10.4px" text-anchor="middle" letter-spacing="-0.161" fill="#141414" xml:space="preserve" >Sun 06:00</text>
<text x="347.6" y="397.5" font-size="10.4px" text-anchor="middle" letter-spacing="-0.161" fill="#141414" xml:space="preserve" >Sun 12:00</text>
<text x="485.1" y="397.5" font-size="10.4px" text-anchor="middle" letter-spacing="-0.161" fill="#141414" xml:space="preserve" >Sun 18:00</text>
<text transform="translate(17.8,207.3) rotate(-90)" font-size="11.11px" text-anchor="middle">C</text>
<text transform="translate(685.6,7) rotate(90)" font-size="7.64px" fill="#a8a8a8" letter-spacing="0.4">RRDTOOL / TOBI OETIKER</text>
<rect x="16.5" y="407.5" width="8" height="8" fill="#ff0000" stroke="#000" stroke-width="1"/>
<text x="30.0" y="415.0" font-size="11.11px" text-anchor="start" letter-spacing="0.312" fill="#141414" xml:space="preserve" >VL Kessel</text>
<rect x="114.5" y="407.5" width="8" height="8" fill="#000080" stroke="#000" stroke-width="1"/>
<text x="128.0" y="415.0" font-size="11.11px" text-anchor="start" letter-spacing="0.312" fill="#141414" xml:space="preserve" >RL Kessel</text>
<rect x="219.5" y="407.5" width="8" height="8" fill="#ff80a8" stroke="#000" stroke-width="1"/>
<text x="233.0" y="415.0" font-size="11.11px" text-anchor="start" letter-spacing="0.312" fill="#141414" xml:space="preserve" >VL Heizung</text>
<rect x="338.5" y="407.5" width="8" height="8" fill="#0000ff" stroke="#000" stroke-width="1"/>
<text x="352.0" y="415.0" font-size="11.11px" text-anchor="start" letter-spacing="0.312" fill="#141414" xml:space="preserve" >RL Heizung</text>
<rect x="471.5" y="407.5" width="8" height="8" fill="#a80000" stroke="#000" stroke-width="1"/>
<text x="485.0" y="415.0" font-size="11.11px" text-anchor="start" letter-spacing="0.312" fill="#141414" xml:space="preserve" >Puffer Oben</text>
<rect x="583.5" y="407.5" width="8" height="8" fill="#8b008b" stroke="#000" stroke-width="1"/>
<text x="597.0" y="415.0" font-size="11.11px" text-anchor="start" letter-spacing="0.312" fill="#141414" xml:space="preserve" >Puffer Mitte</text>
<rect x="16.5" y="421.5" width="8" height="8" fill="#ff00ff" stroke="#000" stroke-width="1"/>
<text x="30.0" y="429.0" font-size="11.11px" text-anchor="start" letter-spacing="0.312" fill="#141414" xml:space="preserve" >Luftfeuchte</text>
<rect x="124.5" y="421.5" width="8" height="8" fill="#0000ff" stroke="#000" stroke-width="1"/>
<text x="138.0" y="429.0" font-size="11.11px" text-anchor="start" letter-spacing="0.312" fill="#141414" xml:space="preserve" >AT&gt;5C, FS AUS</text>
<rect x="247.0" y="421.5" width="8" height="8" fill="#ff00ff" stroke="#000" stroke-width="1"/>
<text x="260.5" y="429.0" font-size="11.11px" text-anchor="start" letter-spacing="0.312" fill="#141414" xml:space="preserve" >AT&lt;2C, FS EIN</text>
<rect x="368.5" y="421.5" width="8" height="8" fill="#808080" stroke="#000" stroke-width="1"/>
<text x="382.0" y="429.0" font-size="11.11px" text-anchor="start" letter-spacing="0.312" fill="#141414" xml:space="preserve" >Kessel-P AUS</text>
<rect x="483.5" y="421.5" width="8" height="8" fill="#cccc00" stroke="#000" stroke-width="1"/>
<text x="497.0" y="429.0" font-size="11.11px" text-anchor="start" letter-spacing="0.312" fill="#141414" xml:space="preserve" >Kessel-P EIN</text>
<rect x="598.5" y="421.5" width="8" height="8" fill="#ff0000" stroke="#000" stroke-width="1"/>
<text x="612.0" y="429.0" font-size="11.11px" text-anchor="start" letter-spacing="0.312" fill="#141414" xml:space="preserve" >Heiz-P AUS</text>
<rect x="16.5" y="435.5" width="8" height="8" fill="#00ff00" stroke="#000" stroke-width="1"/>
<text x="30.0" y="443.0" font-size="11.11px" text-anchor="start" letter-spacing="0.312" fill="#141414" xml:space="preserve" >Heiz-P EIN</text>
<text x="120.0" y="443.0" font-size="11.11px" text-anchor="start" letter-spacing="0.312" fill="#141414" xml:space="preserve" >akt.rH: 0.00</text>
<text x="224.0" y="443.0" font-size="11.11px" text-anchor="start" letter-spacing="0.312" fill="#141414" xml:space="preserve" >akt.AT:-1.97 C</text>
<text x="342.0" y="443.0" font-size="11.11px" text-anchor="start" letter-spacing="0.312" fill="#141414" xml:space="preserve" >min/maxAT24h:-2.56</text>
<text x="471.5" y="443.0" font-size="11.11px" text-anchor="start" letter-spacing="0.312" fill="#141414" xml:space="preserve" >/</text>
<text x="486.0" y="443.0" font-size="11.11px" text-anchor="start" letter-spacing="0.312" fill="#141414" xml:space="preserve" >2.00</text>
<text x="534.1" y="443.0" font-size="11.11px" text-anchor="start" letter-spacing="0.312" fill="#141414" xml:space="preserve" >akt.Fuellstand: -nan</text>
<text x="16.0" y="457.0" font-size="11.11px" text-anchor="start" letter-spacing="0.312" fill="#141414" xml:space="preserve" >Aquarium:22.69 C</text>
<text x="143.7" y="457.0" font-size="11.11px" text-anchor="start" letter-spacing="0.312" fill="#141414" xml:space="preserve" >min/max:22.40/22.88</text>
</svg>
</body></html>
